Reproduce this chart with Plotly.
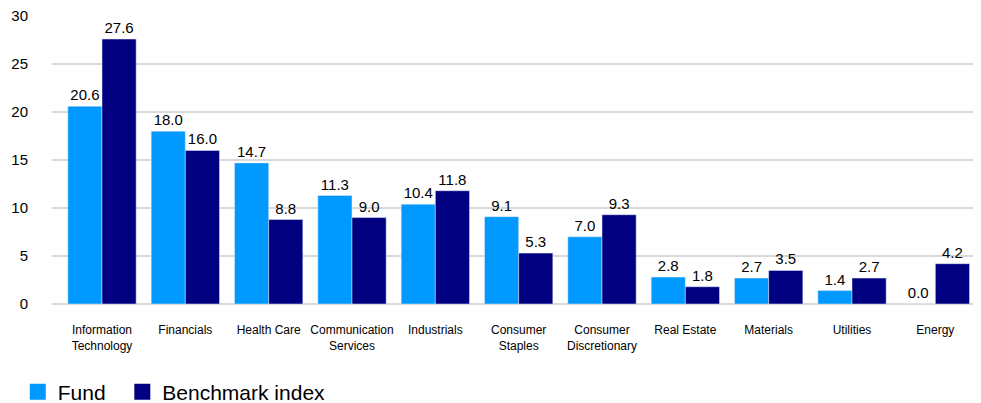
import plotly.graph_objects as go

categories = ["Information<br>Technology", "Financials", "Health Care", "Communication<br>Services",
              "Industrials", "Consumer<br>Staples", "Consumer<br>Discretionary", "Real Estate",
              "Materials", "Utilities", "Energy"]
fund = [20.6, 18.0, 14.7, 11.3, 10.4, 9.1, 7.0, 2.8, 2.7, 1.4, 0.0]
benchmark = [27.6, 16.0, 8.8, 9.0, 11.8, 5.3, 9.3, 1.8, 3.5, 2.7, 4.2]
y_ticks = [0, 5, 10, 15, 20, 25, 30]
series_names = ["Fund", "Benchmark index"]
series_colors = ["#0099ff", "#000080"]

font_family = "Liberation Sans, Arial, sans-serif"

fig = go.Figure()
for name, vals, col in zip(series_names, [fund, benchmark], series_colors):
    fig.add_trace(go.Bar(name=name, x=categories, y=vals, marker_color=col,
                         texttemplate="%{y:.1f}", textposition="outside",
                         textfont=dict(size=15, color="#000000"), cliponaxis=False,
                         showlegend=False, legendgroup=name))
# legend entries with larger square symbols (trailing no-break spaces widen the first entry)
legend_labels = ["Fund\u00a0\u00a0", "Benchmark index"]
for label, name, col in zip(legend_labels, series_names, series_colors):
    fig.add_trace(go.Scatter(name=label, x=[None], y=[None], mode="markers",
                             marker=dict(symbol="square", size=16, color=col),
                             showlegend=True, legendgroup=name))

fig.update_layout(
    width=973, height=395,
    margin=dict(l=44, r=4, t=8, b=99, autoexpand=False),
    paper_bgcolor="white", plot_bgcolor="white",
    font=dict(family=font_family, color="#000000"),
    barmode="group", bargap=0.18, bargroupgap=0,
    showlegend=True,
    legend=dict(orientation="h", x=-0.037, xanchor="left", y=-0.306, yanchor="middle",
                font=dict(size=21, color="#000000"), itemwidth=30, tracegroupgap=0,
                itemsizing="trace", bgcolor="rgba(0,0,0,0)"),
    xaxis=dict(type="category", range=[-0.6, 10.5], showgrid=False, showline=False,
               zeroline=False, ticks="outside", ticklen=15, tickcolor="rgba(0,0,0,0)",
               tickfont=dict(size=12, color="#000000"), automargin=False),
    yaxis=dict(range=[0, 30], tickvals=y_ticks, showgrid=True, gridcolor="#d9d9d9",
               gridwidth=1.5, zeroline=True, zerolinecolor="#d9d9d9", zerolinewidth=1.5,
               showline=False, ticks="outside", ticklen=20, tickcolor="rgba(0,0,0,0)",
               tickfont=dict(size=15, color="#000000"), automargin=False,
               ticklabeloverflow="allow"),
)

fig.write_html("out.html")
